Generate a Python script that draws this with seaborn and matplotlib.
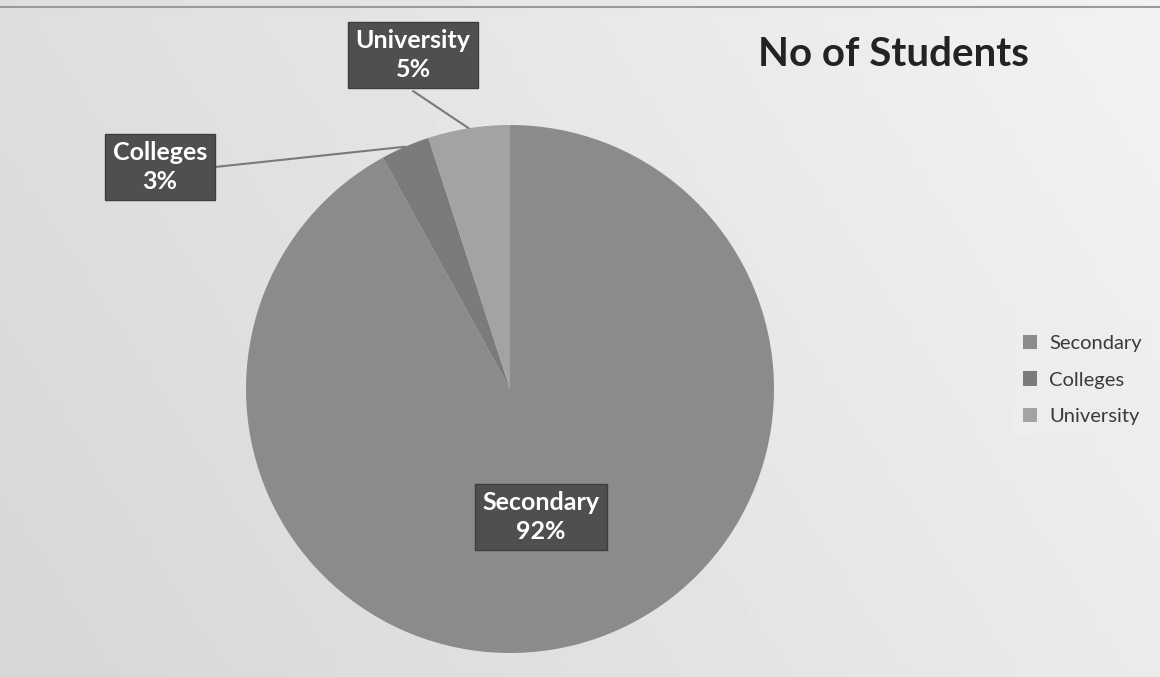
import numpy as np
import matplotlib
matplotlib.use("Agg")
import matplotlib.pyplot as plt
import seaborn as sns

# data
categories = ["Secondary", "Colleges", "University"]
percent = [92, 3, 5]
slice_colors = ["#8b8b8b", "#7b7b7b", "#a3a3a3"]
title = "No of Students"

sns.set_theme(style="white")
plt.rcParams['font.family'] = ['Lato', 'DejaVu Sans']

W, H = 1160, 677
fig = plt.figure(figsize=(W / 100, H / 100), dpi=100)

# soft gray background, a bit lighter to the upper right
bg = fig.add_axes([0, 0, 1, 1])
gx = np.linspace(0, 1, 200)
gy = np.linspace(0, 1, 120)
GX, GY = np.meshgrid(gx, gy)
shade = 0.84 + 0.08 * GX + 0.03 * (1 - GY)
bg.imshow(shade, cmap="gray", vmin=0, vmax=1, aspect="auto", extent=[0, 1, 0, 1])
bg.axhline(0.99, color="#9a9a9a", lw=1.5)
bg.axis("off")

ax = fig.add_axes([0, 0, 1, 1])
ax.set_facecolor("none")
cx, cy, r = 510, H - 389, 264
wedges, _ = ax.pie(percent, colors=slice_colors, startangle=90, counterclock=False,
                   radius=r, center=(cx, cy), wedgeprops=dict(linewidth=0))
ax.set_xlim(0, W)
ax.set_ylim(0, H)
ax.set_aspect("equal")
ax.axis("off")

box = dict(boxstyle="square,pad=0.3", facecolor="#4f4f4f", edgecolor="#3e3e3e", lw=1)
label_pos = {"Secondary": (541, H - 517), "Colleges": (160, H - 167), "University": (413, H - 55)}
for w, name, p in zip(wedges, categories, percent):
    tx, ty = label_pos[name]
    txt = f"{name}\n{p}%"
    if name != "Secondary":
        ang = np.deg2rad((w.theta1 + w.theta2) / 2)
        ex, ey = cx + r * np.cos(ang), cy + r * np.sin(ang)
        sx, sy = (tx, ty - 36) if name == "University" else (tx + 55, ty)
        ax.plot([sx, ex], [sy, ey], color="#7a7a7a", lw=1.5)
    ax.text(tx, ty, txt, ha="center", va="center", color="white", fontsize=18,
            fontweight="bold", linespacing=1.3, bbox=box, zorder=5)

fig.text(893 / W, 1 - 55 / H, title, ha="center", va="center", fontsize=29,
         fontweight="bold", color="#232323")

leg = ax.legend(wedges, categories, loc="center left", bbox_to_anchor=(1003 / W, 1 - 380 / H),
                bbox_transform=fig.transFigure, frameon=True, fontsize=14.5,
                handlelength=0.7, handleheight=0.7, handletextpad=0.6, labelspacing=0.95,
                borderpad=0.5, labelcolor="#3a3a3a")
leg.get_frame().set_facecolor("#eeeeee")
leg.get_frame().set_edgecolor("none")

fig.savefig("out.png", dpi=100)
